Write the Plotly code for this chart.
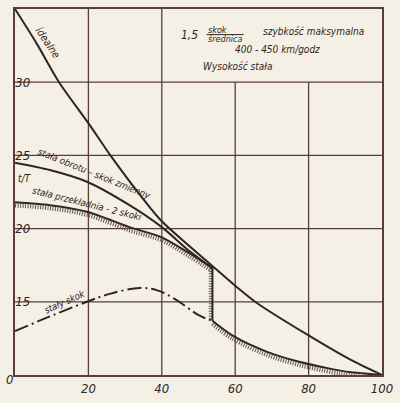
import plotly.graph_objects as go

# ---- data ----
ideal_x = [0, 6, 12, 20, 26, 35, 40, 54, 60, 66, 80, 91, 100]
ideal_y = [3.5, 3.26, 3.0, 2.72, 2.5, 2.2, 2.05, 1.74, 1.61, 1.49, 1.27, 1.11, 1.0]

obrot_x = [0, 9.5, 19.6, 31.2, 40, 47.6, 53.8]
obrot_y = [2.45, 2.40, 2.32, 2.16, 2.01, 1.845, 1.73]

przekl_x = [0, 9.5, 19.6, 31.2, 40, 47.6, 53.8]
przekl_y = [2.18, 2.16, 2.115, 2.01, 1.94, 1.83, 1.73]

drop_x = [53.8, 53.8]
drop_y = [1.73, 1.37]

lower_x = [53.8, 59.2, 68.5, 77.4, 86.4, 91, 100]
lower_y = [1.37, 1.27, 1.16, 1.09, 1.04, 1.02, 1.0]

skok_x = [0, 9.5, 19.6, 25.8, 34, 38.6, 43.5, 50.3, 53.8]
skok_y = [1.30, 1.40, 1.50, 1.554, 1.595, 1.58, 1.52, 1.405, 1.37]

x_ticks = [0, 20, 40, 60, 80, 100]
x_labels = ["0", "20", "40", "60", "80", "100"]
y_ticks = [1.5, 2.0, 2.5, 3.0]
y_labels = ["15", "20", "25", "30"]

INK = "#2f2521"
GRID = "#5b3d37"
BG = "#f5f0e6"
HATCH = "#5e514b"

fig = go.Figure()

def hatch(xs, ys, dx=0.0, dy=-0.022, shape="spline"):
    fig.add_trace(go.Scatter(x=[v + dx for v in xs], y=[v + dy for v in ys], mode="lines",
                             line=dict(color=HATCH, width=4, dash="1px,1.5px", shape=shape),
                             hoverinfo="skip", showlegend=False))

hatch(przekl_x, przekl_y)
hatch(drop_x, drop_y, dx=-0.45, dy=0, shape="linear")
hatch(lower_x, lower_y)

for xs, ys, shape in [(ideal_x, ideal_y, "spline"), (obrot_x, obrot_y, "spline"),
                      (przekl_x, przekl_y, "spline"), (drop_x, drop_y, "linear"),
                      (lower_x, lower_y, "spline")]:
    fig.add_trace(go.Scatter(x=xs, y=ys, mode="lines",
                             line=dict(color=INK, width=2, shape=shape, smoothing=0.8),
                             showlegend=False))
fig.add_trace(go.Scatter(x=skok_x, y=skok_y, mode="lines",
                         line=dict(color=INK, width=2, shape="spline", dash="14px,4px,2px,4px"),
                         showlegend=False))

# grid lines
shapes = []
for yv in [1.5, 2.0, 2.5, 3.0]:
    shapes.append(dict(type="line", x0=0, x1=100, y0=yv, y1=yv, line=dict(color=GRID, width=1.3), layer="below"))
for xv in [20, 40]:
    shapes.append(dict(type="line", x0=xv, x1=xv, y0=1.0, y1=3.5, line=dict(color=GRID, width=1.3), layer="below"))
for xv in [60, 80]:
    shapes.append(dict(type="line", x0=xv, x1=xv, y0=1.0, y1=3.0, line=dict(color=GRID, width=1.3), layer="below"))
# fraction bar
shapes.append(dict(type="line", x0=52.2, x1=62.3, y0=3.325, y1=3.325, line=dict(color=INK, width=1)))

fs = dict(family="DejaVu Sans Condensed, DejaVu Sans", size=10, color=INK, style="italic")
def note(x, y, t, ang=0, size=10, xref="x", yref="y"):
    f = dict(fs); f["size"] = size
    fig.add_annotation(x=x, y=y, text=t, showarrow=False, textangle=ang, font=f, xref=xref, yref=yref)

note(9.2, 3.27, "idealne", 56, 10.5)
note(21.7, 2.375, "stała obrotu – skok zmienny", 22, 9.5)
note(19.6, 2.17, "stała przekładnia - 2 skoki", 14, 9.5)
note(13.6, 1.50, "stały skok", -24, 9.5)
note(2.7, 2.345, "t/T", 0, 10)
note(47.6, 3.324, "1,5", 0, 12)
note(55.3, 3.358, "skok", 0, 9)
note(57.3, 3.297, "średnica", 0, 9)
note(81.3, 3.345, "szybkość maksymalna", 0, 10)
note(71.5, 3.22, "400 - 450 km/godz", 0, 10)
note(60.6, 3.11, "Wysokość stała", 0, 10)
note(47.5, 0.915, "v/V", 0, 13)
note(-0.031, -0.037, "0", 0, 13, xref="paper", yref="paper")

fig.update_layout(
    width=400, height=403, margin=dict(l=15, r=17, t=7, b=26),
    paper_bgcolor=BG, plot_bgcolor=BG, shapes=shapes,
    xaxis=dict(range=[0, 100], tickvals=x_ticks, ticktext=x_labels, showgrid=False, zeroline=False,
               showline=True, mirror=True, linecolor=GRID, linewidth=1.8, ticks="",
               tickfont=dict(family="DejaVu Sans Condensed, DejaVu Sans", size=13, color=INK, style="italic")),
    yaxis=dict(range=[1.0, 3.5], tickvals=y_ticks, ticktext=y_labels, showgrid=False, zeroline=False,
               showline=True, mirror=True, linecolor=GRID, linewidth=1.8, ticks="",
               ticklabelposition="inside",
               tickfont=dict(family="DejaVu Sans Condensed, DejaVu Sans", size=13, color=INK, style="italic")),
)
fig.write_html("out.html", config={"displayModeBar": False},
               post_script="document.body.style.margin='0';document.body.style.background='%s';" % BG)
